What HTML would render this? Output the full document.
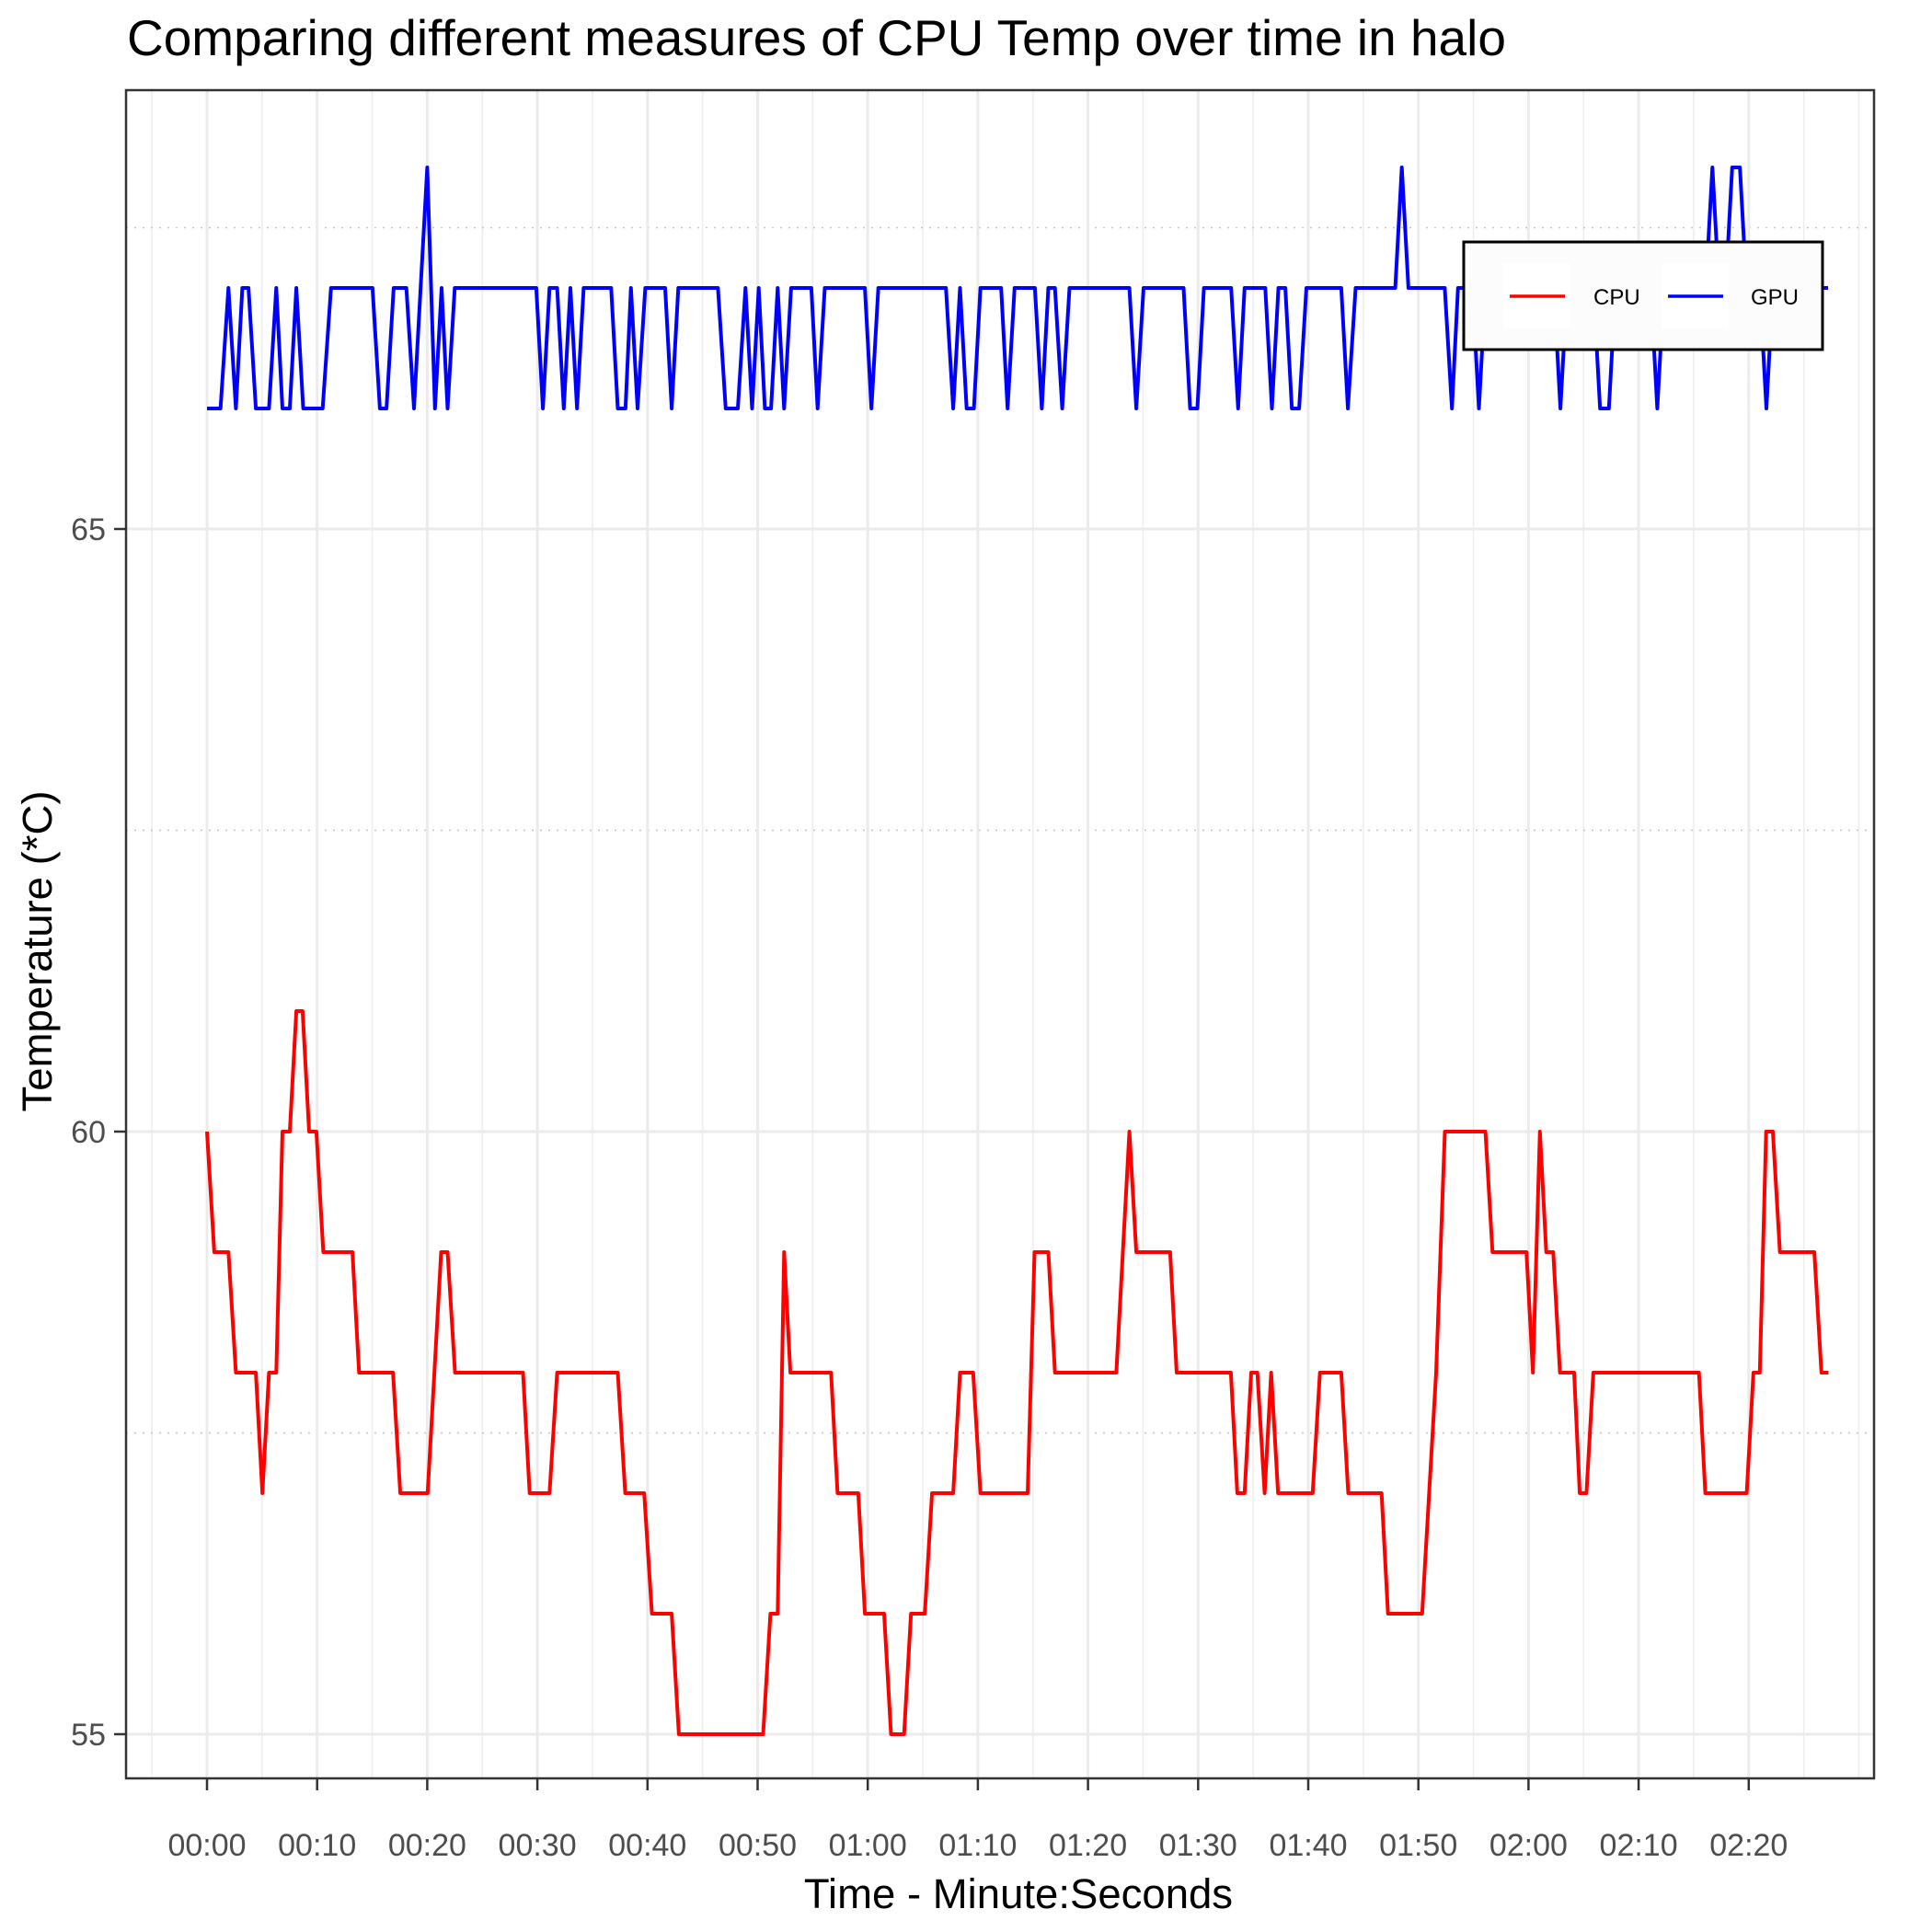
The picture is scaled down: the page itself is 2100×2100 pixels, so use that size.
<!DOCTYPE html>
<html><head><meta charset="utf-8"><style>
html,body{margin:0;padding:0;background:#fff;}
svg{display:block;font-family:"Liberation Sans",Arial,sans-serif;}
</style></head><body>
<svg id="chart" width="2100" height="2100" viewBox="0 0 2100 2100" xmlns="http://www.w3.org/2000/svg">
<rect width="2100" height="2100" fill="#fff"/>
<text x="138" y="60" font-size="55" fill="#000">Comparing different measures of CPU Temp over time in halo</text>
<g id="grid"></g>
<g id="series"></g>
<rect x="137" y="98" width="1900" height="1835" fill="none" stroke="#333" stroke-width="2.5"/>
<g id="axes"></g>
<text x="1107" y="2074" font-size="45.5" text-anchor="middle" fill="#000">Time - Minute:Seconds</text>
<text transform="translate(56,1034) rotate(-90)" font-size="45.5" text-anchor="middle" fill="#000">Temperature (*C)</text>
<g>
<rect x="1591" y="263" width="390" height="117" fill="#fcfcfc" stroke="#000" stroke-width="3"/>
<rect x="1634" y="286" width="73" height="71" fill="#fff"/>
<line x1="1641" y1="322" x2="1701" y2="322" stroke="#ff0000" stroke-width="3.5"/>
<text x="1732" y="331" font-size="24" fill="#000">CPU</text>
<rect x="1806" y="286" width="73" height="71" fill="#fff"/>
<line x1="1813" y1="322" x2="1873" y2="322" stroke="#0000ff" stroke-width="3.5"/>
<text x="1903" y="331" font-size="24" fill="#000">GPU</text>
</g>
</svg>
<script>
const gpuTimes=[0,1.23,1.95,2.62,3.21,3.77,4.44,5.63,6.29,6.85,7.52,8.11,8.74,10.5,11.26,15.03,15.7,16.3,16.95,18.1,18.8,20.0,20.7,21.3,21.85,22.5,29.9,30.5,31.1,31.8,32.4,33.0,33.6,34.2,36.7,37.3,38.0,38.5,39.1,39.8,41.6,42.2,42.8,46.4,47.1,48.2,48.9,49.5,50.1,
50.66,51.22,51.82,52.41,53.04,54.88,55.45,56.1,59.74,60.33,60.96,67.1,67.76,68.38,68.98,69.64,70.23,72.11,72.7,73.33,75.18,75.81,76.4,77.0,77.66,78.32,83.76,84.39,85.05,88.68,89.27,89.93,90.53,93.0,93.63,94.22,96.1,96.7,97.29,97.92,98.51,99.17,99.83,
103.0,103.6,104.3,107.9,108.5,109.1,112.4,113.05,113.6,114.9,115.5,116.1,122.3,122.9,123.5,125.9,126.5,127.3,127.9,131.1,131.7,132.3,136.1,136.7,137.3,137.9,138.5,139.2,139.8,141.0,141.6,142.2,147.2];
const gpuValues=[66,66,67,66,67,67,66,66,67,66,66,67,66,66,67,67,66,66,67,67,66,68,66,67,66,67,67,66,67,67,66,67,66,67,67,66,66,67,66,67,67,66,67,67,66,66,67,66,67,
66,66,67,66,67,67,66,67,67,66,67,67,66,67,66,66,67,67,66,67,67,66,67,67,66,67,67,66,67,67,66,66,67,67,66,67,67,66,67,67,66,66,67,
67,66,67,67,68,67,67,66,67,67,66,67,67,66,67,67,66,66,67,67,66,67,67,68,67,67,68,68,67,67,66,67,67];
const cpuTimes=[0,0.66,1.95,2.62,4.44,5.03,5.63,6.29,6.85,7.52,8.11,8.68,9.27,9.93,10.56,13.21,13.81,16.89,17.55,20.03,21.26,21.85,22.52,28.7,29.3,31.1,31.8,37.3,37.98,39.7,40.4,42.2,42.85,50.5,51.16,51.82,52.41,52.97,56.67,57.26,59.14,59.74,61.49,62.11,63.3,63.93,65.18,65.84,67.76,68.38,69.57,70.23,74.52,75.15,76.4,77.0,82.57,83.76,84.39,87.46,88.05,92.97,93.56,94.22,94.82,95.38,96.04,96.63,97.26,100.4,101.06,103.0,103.63,106.66,107.24,110.34,111.61,112.41,116.09,116.73,119.82,120.4,121.04,121.61,122.25,122.86,124.14,124.65,125.26,125.89,135.48,136.06,139.82,140.43,141.0,141.58,142.19,142.83,145.96,146.6,147.24];
const cpuValues=[60,59,59,58,58,57,58,58,60,60,61,61,60,60,59,59,58,58,57,57,59,59,58,58,57,57,58,58,57,57,56,56,55,55,56,56,59,58,58,57,57,56,56,55,55,56,56,57,57,58,58,57,57,59,59,58,58,60,59,59,58,58,57,57,58,58,57,58,57,57,58,58,57,57,56,56,58,60,60,59,59,58,60,59,59,58,58,57,57,58,58,57,57,58,58,60,60,59,59,58,58];
const xMajorTicks=[0,10,20,30,40,50,60,70,80,90,100,110,120,130,140];
const xTickLabels=["00:00","00:10","00:20","00:30","00:40","00:50","01:00","01:10","01:20","01:30","01:40","01:50","02:00","02:10","02:20"];
const yMajorTicks=[55,60,65];
const yMinorTicks=[57.5,62.5,67.5];
const xMinorTicks=[-5,5,15,25,35,45,55,65,75,85,95,105,115,125,135,145,150];

const NS="http://www.w3.org/2000/svg";
const PL=137,PR=2037,PT=98,PB=1933;
function X(t){return 225+t*11.97;}
function Y(v){return 1230-(v-60)*131;}
function mk(tag,attrs,parent){const e=document.createElementNS(NS,tag);for(const k in attrs)e.setAttribute(k,attrs[k]);parent.appendChild(e);return e;}
const grid=document.getElementById('grid'),series=document.getElementById('series'),axes=document.getElementById('axes');
xMinorTicks.forEach(t=>{if(X(t)>PR)return;const l=mk('line',{x1:X(t),x2:X(t),y1:PT,y2:PB,stroke:'#ededed','stroke-width':1.5},grid);

});
yMinorTicks.forEach(v=>{const l=mk('line',{x1:PL,x2:PR,y1:Y(v),y2:Y(v),stroke:'#c4c4c4','stroke-width':1.5,'stroke-dasharray':'2 7'},grid);

});
xMajorTicks.forEach((t,i)=>{const l=mk('line',{x1:X(t),x2:X(t),y1:PT,y2:PB,stroke:'#ebebeb','stroke-width':3},grid);


const tk=mk('line',{x1:X(t),x2:X(t),y1:PB,y2:PB+13,stroke:'#333','stroke-width':2.5},axes);


const tx=mk('text',{x:X(t),y:2017,'font-size':34,'text-anchor':'middle',fill:'#4d4d4d'},axes);tx.textContent=xTickLabels[i];

});
yMajorTicks.forEach(v=>{const l=mk('line',{x1:PL,x2:PR,y1:Y(v),y2:Y(v),stroke:'#ebebeb','stroke-width':3},grid);


const tk=mk('line',{x1:PL-13,x2:PL,y1:Y(v),y2:Y(v),stroke:'#333','stroke-width':2.5},axes);


const tx=mk('text',{x:115,y:Y(v)+12,'font-size':34,'text-anchor':'end',fill:'#4d4d4d'},axes);tx.textContent=String(v);

});
function line(ts,vs,color,name){const pts=ts.map((t,i)=>X(t).toFixed(1)+','+Y(vs[i]).toFixed(1)).join(' ');
const p=mk('polyline',{points:pts,fill:'none',stroke:color,'stroke-width':4,'stroke-linejoin':'round'},series);

}
line(cpuTimes,cpuValues,'#ff0000','cpu-line');
line(gpuTimes,gpuValues,'#0000ff','gpu-line');
</script>
</body></html>
